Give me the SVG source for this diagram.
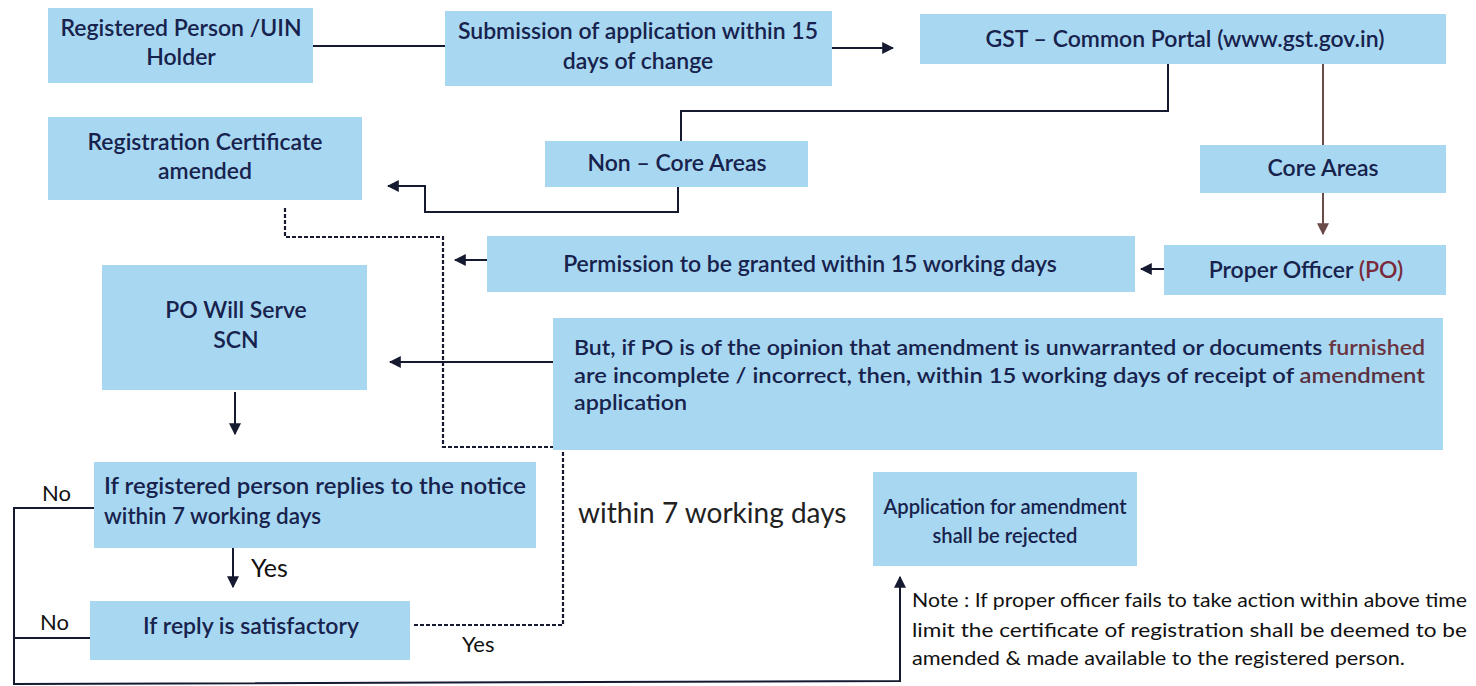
<svg xmlns="http://www.w3.org/2000/svg" width="1476" height="686" viewBox="0 0 1476 686">
  <style>
    .box { fill: #a8d8f1; }
    .lbl { font-family: Lato, "Open Sans", "Liberation Sans", sans-serif; font-size: 23px; font-weight: 600; fill: #17224d; }
    .mid { text-anchor: middle; }
    .para { font-size: 21px; }
    .note { font-family: Lato, "Liberation Sans", sans-serif; font-size: 20px; fill: #111; }
    .tag { font-family: Lato, "Liberation Sans", sans-serif; font-size: 22px; fill: #111; }
    .ln { fill: none; stroke: #151a30; stroke-width: 2; }
    .dot { fill: none; stroke: #151a30; stroke-width: 2.2; stroke-dasharray: 4 2; }
    .brown { fill: none; stroke: #6b4a4a; stroke-width: 2; }
  </style>
  <defs>
    <marker id="ah" viewBox="0 0 10 10" refX="9" refY="5" markerWidth="6" markerHeight="6" orient="auto">
      <path d="M0,0 L10,5 L0,10 z" fill="#151a30"/>
    </marker>
    <marker id="ahb" viewBox="0 0 10 10" refX="9" refY="5" markerWidth="6" markerHeight="6" orient="auto">
      <path d="M0,0 L10,5 L0,10 z" fill="#6b4a4a"/>
    </marker>
  </defs>

  <rect width="1476" height="686" fill="#ffffff"/>

  <!-- connectors -->
  <g id="connectors">
    <path class="ln" d="M313,46 H445"/>
    <path class="ln" d="M832,48 H893" marker-end="url(#ah)"/>
    <path class="ln" d="M1168,64 V111 H681 V141"/>
    <path class="brown" d="M1323,64 V145"/>
    <path class="brown" d="M1323,193 V234" marker-end="url(#ahb)"/>
    <path class="ln" d="M1164,269 H1141" marker-end="url(#ah)"/>
    <path class="ln" d="M487,260 H455" marker-end="url(#ah)"/>
    <path class="ln" d="M678,187 V212 H425 V186 H388" marker-end="url(#ah)"/>
    <path class="ln" d="M553,362 H390" marker-end="url(#ah)"/>
    <path class="ln" d="M235,392 V434" marker-end="url(#ah)"/>
    <path class="ln" d="M233,548 V587" marker-end="url(#ah)"/>
    <path class="dot" d="M285,208 V237 H443 V447 H563 V625 H412"/>
    <path class="ln" d="M94,508 H14 V684 L900,681 V577" marker-end="url(#ah)"/>
    <path class="ln" d="M90,638 H14"/>
  </g>

  <g id="registered-person">
    <rect class="box" x="48" y="8" width="265" height="75"/>
    <text class="lbl mid" x="181" y="36">Registered Person /UIN</text>
    <text class="lbl mid" x="181" y="65">Holder</text>
  </g>

  <g id="submission">
    <rect class="box" x="445" y="11" width="387" height="75"/>
    <text class="lbl mid" x="638" y="39">Submission of application within 15</text>
    <text class="lbl mid" x="638" y="69">days of change</text>
  </g>

  <g id="gst-portal">
    <rect class="box" x="920" y="14" width="526" height="50"/>
    <text class="lbl mid" x="1185" y="47">GST – Common Portal (www.gst.gov.in)</text>
  </g>

  <g id="certificate-amended">
    <rect class="box" x="48" y="117" width="314" height="83"/>
    <text class="lbl mid" x="205" y="150">Registration Certificate</text>
    <text class="lbl mid" x="205" y="179">amended</text>
  </g>

  <g id="non-core">
    <rect class="box" x="545" y="141" width="263" height="46"/>
    <text class="lbl mid" x="677" y="171">Non – Core Areas</text>
  </g>

  <g id="core">
    <rect class="box" x="1200" y="145" width="246" height="48"/>
    <text class="lbl mid" x="1323" y="176">Core Areas</text>
  </g>

  <g id="permission">
    <rect class="box" x="487" y="236" width="648" height="56"/>
    <text class="lbl mid" x="810" y="272">Permission to be granted within 15 working days</text>
  </g>

  <g id="proper-officer">
    <rect class="box" x="1164" y="245" width="282" height="50"/>
    <text class="lbl mid" x="1306" y="278">Proper Officer <tspan fill="#7a2a3a">(PO)</tspan></text>
  </g>

  <g id="serve-scn">
    <rect class="box" x="102" y="265" width="265" height="125"/>
    <text class="lbl mid" x="236" y="318">PO Will Serve</text>
    <text class="lbl mid" x="236" y="348">SCN</text>
  </g>

  <g id="unwarranted">
    <rect class="box" x="553" y="318" width="890" height="132"/>
    <text class="lbl para" x="574" y="355" textLength="851" lengthAdjust="spacingAndGlyphs">But, if PO is of the opinion that amendment is unwarranted or documents <tspan fill="#6a3440">furnished</tspan></text>
    <text class="lbl para" x="574" y="383" textLength="851" lengthAdjust="spacingAndGlyphs">are incomplete / incorrect, then, within 15 working days of receipt of <tspan fill="#5a3040">amendment</tspan></text>
    <text class="lbl para" x="574" y="410" textLength="113" lengthAdjust="spacingAndGlyphs">application</text>
  </g>

  <g id="replies">
    <rect class="box" x="94" y="462" width="442" height="86"/>
    <text class="lbl" x="104" y="494" textLength="422" lengthAdjust="spacingAndGlyphs">If registered person replies to the notice</text>
    <text class="lbl" x="104" y="524" textLength="217" lengthAdjust="spacingAndGlyphs">within 7 working days</text>
  </g>

  <g id="satisfactory">
    <rect class="box" x="90" y="601" width="320" height="59"/>
    <text class="lbl mid" x="251" y="634">If reply is satisfactory</text>
  </g>

  <g id="rejected">
    <rect class="box" x="873" y="472" width="264" height="94"/>
    <text class="lbl mid" x="1005" y="514" textLength="243" lengthAdjust="spacingAndGlyphs" style="font-size:21px">Application for amendment</text>
    <text class="lbl mid" x="1005" y="543" textLength="145" lengthAdjust="spacingAndGlyphs" style="font-size:21px">shall be rejected</text>
  </g>

  <!-- free labels -->
  <text class="tag" x="42" y="501">No</text>
  <text class="tag" x="40" y="630">No</text>
  <text class="tag" x="251" y="577" style="font-size:25px">Yes</text>
  <text class="tag" x="462" y="652">Yes</text>
  <text class="tag" x="578" y="523" style="font-size:28px;fill:#222">within 7 working days</text>

  <g id="note">
    <text class="note" x="912" y="607" textLength="555" lengthAdjust="spacingAndGlyphs">Note : If proper officer fails to take action within above time</text>
    <text class="note" x="912" y="637" textLength="555" lengthAdjust="spacingAndGlyphs">limit the certificate of registration shall be deemed to be</text>
    <text class="note" x="912" y="665" textLength="493" lengthAdjust="spacingAndGlyphs">amended &amp; made available to the registered person.</text>
  </g>
</svg>
